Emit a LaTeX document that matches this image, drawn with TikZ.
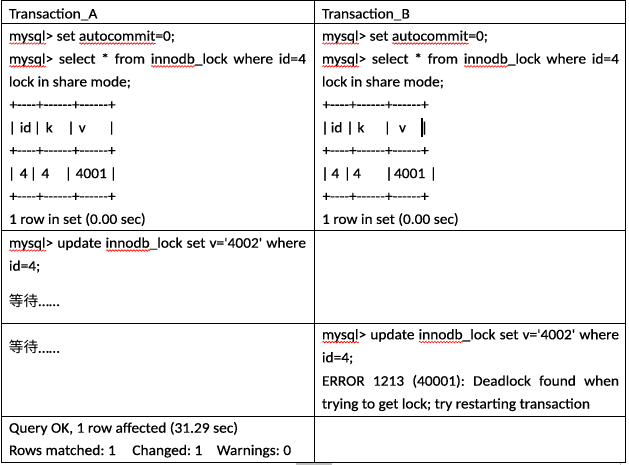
\documentclass[tikz,border=0pt]{standalone}
\usepackage{fontspec}
\usetikzlibrary{decorations.pathmorphing}
\newfontfamily\calfont{Carlito}[FakeStretch=1.05,FakeBold=0.4]
\newfontfamily\cjkfont{Noto Sans CJK SC}
\newlength\sqw
\newcommand\sq[1]{\setbox0\hbox{#1}\sqw=\wd0\rlap{\tikz[baseline=0pt,x=1pt,y=1pt]\draw[red,line width=0.6pt,decorate,decoration={snake,amplitude=0.8pt,segment length=3pt}] (0,-2.8) -- (\the\sqw,-2.8);}\box0}
\newcommand\waittxt{{\cjkfont 等待}……}
\newcommand\jl[1]{\makebox[297pt][s]{#1}}
\tikzset{
  txt/.style={anchor=base west, inner sep=0pt, outer sep=0pt, font=\calfont\fontsize{14.67pt}{17pt}\selectfont\frenchspacing},
  pipe/.style={txt, anchor=base},
  tline/.style={line width=1pt, black},
  ghost/.style={line width=1.4pt, black!25}
}
\begin{document}
\begin{tikzpicture}[x=1pt,y=-1pt]
\useasboundingbox (0,0) rectangle (629,465);
% table grid
\draw[tline] (1.5,0.5) rectangle (625.7,462.3);
\draw[tline] (314.5,0.5) -- (314.5,462.3);
\foreach \yy in {24,231,323,416} \draw[tline] (1.5,\yy) -- (625.7,\yy);
\draw[ghost] (296,463.8) -- (332,463.8);
\draw[ghost, line width=1pt] (620,462.5) -- (620,465);
% header
\node[txt] (ha) at (9,18.5) {Transaction\_A};
\node[txt] (hb) at (322,18.5) {Transaction\_B};
% row 1, left
\node[txt] (a1) at (9,40.7) {\sq{mysql}> set \sq{autocommit}=0;};
\node[txt] (a2) at (9,63.6) {\jl{\sq{mysql}> select * from \sq{innodb}\_lock where id=4}};
\node[txt] (a3) at (9,86.5) {lock in share mode;};
\node[txt] (a4) at (9.5,109.4) {+----+------+------+};
\node[pipe] (a5p1) at (12.3,132.3) {|};
\node[txt] (a5i) at (19.8,132.3) {id};
\node[pipe] (a5p2) at (37.3,132.3) {|};
\node[txt] (a5k) at (45.7,132.3) {k};
\node[pipe] (a5p3) at (71,132.3) {|};
\node[txt] (a5v) at (78.7,132.3) {v};
\node[pipe] (a5p4) at (111.7,132.3) {|};
\node[txt] (a6) at (9.5,155.2) {+----+------+------+};
\node[pipe] (a7p1) at (11.7,178.1) {|};
\node[txt] (a7a) at (19.7,178.1) {4};
\node[pipe] (a7p2) at (33.3,178.1) {|};
\node[txt] (a7b) at (41.4,178.1) {4};
\node[pipe] (a7p3) at (68.3,178.1) {|};
\node[txt] (a7c) at (75.6,178.1) {4001};
\node[pipe] (a7p4) at (113.3,178.1) {|};
\node[txt] (a8) at (9.5,201) {+----+------+------+};
\node[txt] (a9) at (9,223.9) {1 row in set (0.00 sec)};
% row 1, right
\node[txt] (b1) at (322,40.7) {\sq{mysql}> set \sq{autocommit}=0;};
\node[txt] (b2) at (322,63.6) {\jl{\sq{mysql}> select * from \sq{innodb}\_lock where id=4}};
\node[txt] (b3) at (322,86.5) {lock in share mode;};
\node[txt] (b4) at (322.5,109.4) {+----+------+------+};
\node[pipe] (b5p1) at (325,132.3) {|};
\node[txt] (b5i) at (330.8,132.3) {id};
\node[pipe] (b5p2) at (350,132.3) {|};
\node[txt] (b5k) at (357.3,132.3) {k};
\node[pipe] (b5p3) at (387.3,132.3) {|};
\node[txt] (b5v) at (399,132.3) {v};
\node[pipe] (b5p4) at (424.5,132.3) {|};
\fill[black] (420.9,118) rectangle (422.6,136.7);
\node[txt] (b6) at (322.5,155.2) {+----+------+------+};
\node[pipe] (b7p1) at (325,178.1) {|};
\node[txt] (b7a) at (331.4,178.1) {4};
\node[pipe] (b7p2) at (347.3,178.1) {|};
\node[txt] (b7b) at (353,178.1) {4};
\node[pipe] (b7p3) at (389,178.1) {|};
\node[txt] (b7c) at (394,178.1) {4001};
\node[pipe] (b7p4) at (433.3,178.1) {|};
\node[txt] (b8) at (322.5,201) {+----+------+------+};
\node[txt] (b9) at (322,223.9) {1 row in set (0.00 sec)};
% row 2, left
\node[txt] (c1) at (9,247.7) {\jl{\sq{mysql}> update \sq{innodb}\_lock set v='4002' where}};
\node[txt] (c2) at (9,270.7) {id=4;};
\node[txt] (c3) at (9,306) {\waittxt};
% row 3, left
\node[txt] (d1) at (9,352.7) {\waittxt};
% row 3, right
\node[txt] (e1) at (322,339.3) {\jl{\sq{mysql}> update \sq{innodb}\_lock set v='4002' where}};
\node[txt] (e2) at (322,362.3) {id=4;};
\node[txt] (e3) at (322,385.7) {\jl{ERROR 1213 (40001): Deadlock found when}};
\node[txt] (e4) at (322,408.5) {trying to get lock; try restarting transaction};
% row 4, left
\node[txt] (f1) at (9,432.7) {Query OK, 1 row affected (31.29 sec)};
\node[txt] (f2) at (9,455) {Rows matched: 1};
\node[txt] (f3) at (132.3,455) {Changed: 1};
\node[txt] (f4) at (216.8,455) {Warnings: 0};
\end{tikzpicture}
\end{document}
